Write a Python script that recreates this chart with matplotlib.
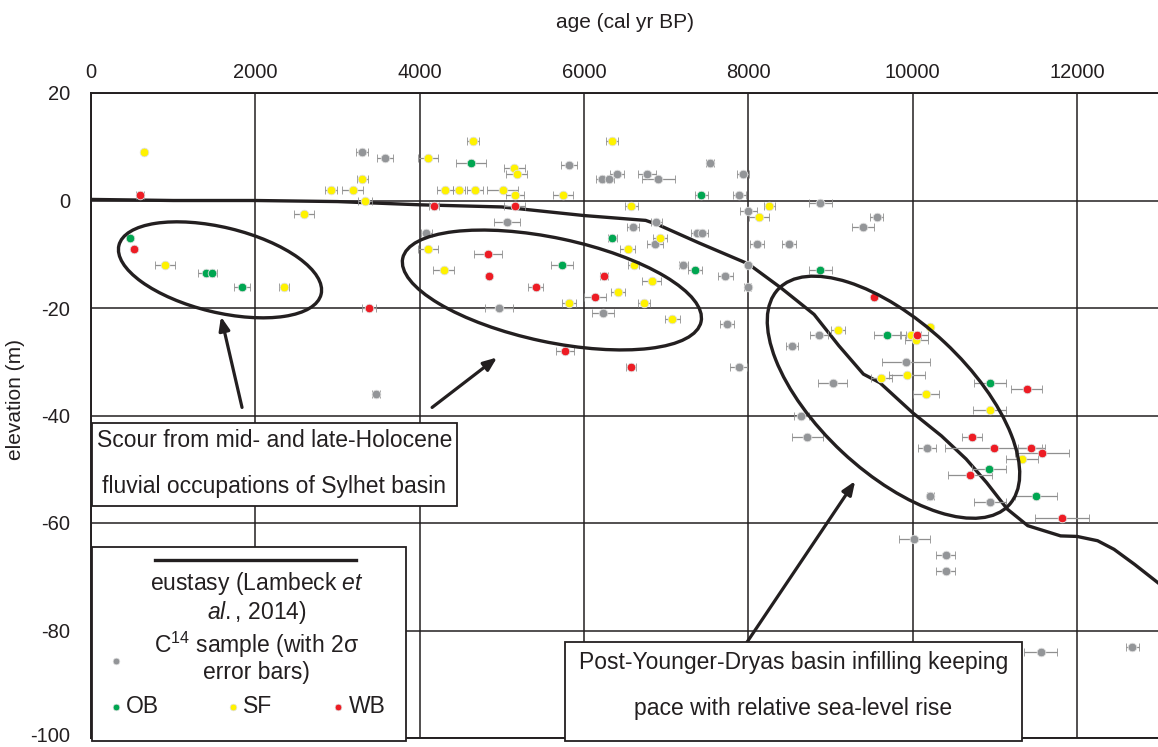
import matplotlib
matplotlib.use('Agg')
import matplotlib.pyplot as plt
from matplotlib.patches import Ellipse, Rectangle
from matplotlib.transforms import ScaledTranslation

plt.rcParams['font.family'] = ['Liberation Sans', 'DejaVu Sans']
plt.rcParams['mathtext.fontset'] = 'custom'
plt.rcParams['mathtext.rm'] = 'Liberation Sans'
plt.rcParams['mathtext.it'] = 'Liberation Sans:italic'
plt.rcParams['axes.unicode_minus'] = False

# ---------------- data ----------------
x_ticks = [0, 2000, 4000, 6000, 8000, 10000, 12000]
y_ticks = [20, 0, -20, -40, -60, -80, -100]

# eustasy curve (Lambeck et al., 2014)
eus_age = [0, 1000, 2000, 3000, 4000, 5000, 6000, 6750, 6900, 7400, 8000, 8400,
           8800, 9100, 9400, 9600, 10000, 10350, 10650, 10900, 11150, 11400,
           11800, 12000, 12250, 12450, 12700, 13000]
eus_elev = [0.2, 0, 0, -0.2, -0.8, -1.2, -2.8, -3.7, -4.5, -7.9, -11.8, -16.3,
            -21.2, -27, -32.3, -33.9, -39.5, -43.8, -48.1, -52.5, -57.4, -60.5,
            -62.4, -62.5, -63.3, -64.9, -67.7, -71.3]

# C14 samples (grey)
gray_age = [3300, 3575, 3470, 4080, 5060, 4960, 5820, 6400, 6770, 6215, 6305, 6905,
            7530, 7935, 7890, 8000, 6880, 6600, 7375, 7435, 8105, 8495, 6865, 7210,
            7720, 7990, 7990, 6230, 7740, 8875, 9560, 9395, 8855, 8535, 7880, 9915,
            9025, 8645, 8715, 10170, 10215, 10940, 10020, 10400, 10400, 11560, 12670]
gray_elev = [9, 8, -36, -6, -4, -20, 6.6, 5, 5, 4, 4, 4,
             7, 5, 1, -2, -4, -5, -6, -6, -8, -8, -8, -12,
             -14, -12, -16, -21, -23, -0.5, -3, -5, -25, -27, -31, -30,
             -34, -40, -44, -46, -55, -56, -63, -66, -69, -84, -83]
gray_err = [70, 95, 50, 70, 160, 170, 100, 85, 110, 65, 65, 200,
            50, 70, 80, 105, 70, 75, 70, 70, 80, 85, 95, 60,
            90, 0, 40, 130, 80, 140, 75, 135, 110, 75, 105, 290,
            175, 90, 190, 110, 45, 190, 185, 120, 120, 200, 80]

# OB (green)
ob_age = [470, 1400, 1470, 1840, 4625, 5730, 7425, 6345, 7350, 8875, 9690, 10945, 10930, 11500]
ob_elev = [-7, -13.5, -13.5, -16, 7, -12, 1, -7, -13, -13, -25, -34, -50, -55]
ob_err = [0, 100, 60, 95, 180, 130, 80, 55, 85, 140, 160, 195, 205, 250]

# SF (yellow)
sf_age = [650, 900, 2350, 4100, 3300, 2920, 3185, 3335, 2590, 4100, 4650, 5150, 5180,
          4310, 4480, 4675, 5010, 5160, 5740, 4290, 5815, 6340, 6575, 8255, 8130,
          6920, 6530, 6605, 6825, 6410, 6730, 7075, 9095, 9980, 10045, 10215, 9930,
          9620, 10165, 10935, 11330]
sf_elev = [9, -12, -16, 8, 4, 2, 2, 0, -2.5, -9, 11, 6, 5,
           2, 2, 2, 2, 1, 1, -13, -19, 11, -1, -1, -3,
           -7, -9, -12, -15, -17, -19, -22, -24, -25, -26, -23.5, -32.5,
           -33, -36, -39, -48]
sf_err = [0, 120, 65, 125, 65, 70, 130, 85, 120, 125, 75, 130, 130,
          100, 70, 100, 185, 115, 120, 125, 85, 70, 80, 70, 125,
          85, 95, 70, 115, 85, 75, 90, 85, 120, 135, 0, 220,
          125, 160, 200, 195]

# WB (red)
wb_age = [600, 520, 3380, 4175, 5155, 4830, 4845, 5410, 5770, 6575, 6135, 6245, 9525,
          10055, 11385, 10725, 10985, 11445, 11575, 10695, 11815]
wb_elev = [1, -9, -20, -1, -1, -10, -14, -16, -28, -31, -18, -14, -18,
           -25, -35, -44, -46, -46, -47, -51, -59]
wb_err = [50, 0, 85, 65, 130, 170, 0, 95, 110, 60, 130, 50, 0,
          135, 185, 120, 590, 160, 330, 270, 330]

C_GRAY = '#939598'
C_OB = '#00a651'
C_SF = '#fff200'
C_WB = '#ed1c24'
C_INK = '#231f20'

# ---------------- figure ----------------
fig = plt.figure(figsize=(11.58, 7.47), dpi=100)
ax = fig.add_axes([91 / 1158, 9 / 747, 1 - 91 / 1158, 645 / 747])
ax.set_xlim(0, 12985)
ax.set_ylim(-100, 20)

ax.set_xticks(x_ticks)
ax.set_yticks(y_ticks)
ax.xaxis.tick_top()
ax.xaxis.set_label_position('top')
ax.tick_params(axis='both', length=0, labelsize=14.5, colors=C_INK)
ax.tick_params(axis='x', pad=8)
ax.tick_params(axis='y', pad=15)
ax.set_xlabel('age (cal yr BP)', fontsize=15, labelpad=25, color=C_INK)
ax.set_ylabel('elevation (m)', fontsize=15, color=C_INK, va='center')
ax.yaxis.set_label_coords(-0.071, 0.525)
ax.grid(True, color=C_INK, lw=1.1, zorder=0)
ax.set_axisbelow(True)
for s in ['left', 'top', 'bottom']:
    ax.spines[s].set_linewidth(1.4)
    ax.spines[s].set_color(C_INK)
ax.spines['right'].set_visible(False)

# nudge the lowest y tick label up so it stays inside the canvas
low_tick = ax.yaxis.get_major_ticks()[-1]
low_tick.label1.set_transform(low_tick.label1.get_transform()
                              + ScaledTranslation(0, 4 / 100, fig.dpi_scale_trans))

# eustasy
ax.plot(eus_age, eus_elev, color=C_INK, lw=2.4, zorder=3, solid_capstyle='round')

# samples
for a, e, er, c in [(gray_age, gray_elev, gray_err, C_GRAY),
                    (ob_age, ob_elev, ob_err, C_OB),
                    (sf_age, sf_elev, sf_err, C_SF),
                    (wb_age, wb_elev, wb_err, C_WB)]:
    ax.errorbar(a, e, xerr=er, fmt='o', ms=6.2, mfc=c, mec='#e0e0e0', mew=0.6,
                ecolor='#8f8f8f', elinewidth=0.9, capsize=2.8, capthick=0.9, zorder=4)


# ellipses (centre in data units, shape in pixels)
def add_ellipse(cx, cy, w, h, ang):
    tr = fig.dpi_scale_trans + ScaledTranslation(cx, cy, ax.transData)
    ax.add_patch(Ellipse((0, 0), w / 100, h / 100, angle=ang, transform=tr,
                         fill=False, lw=2.4, ec=C_INK, zorder=6))


add_ellipse(1570, -12.9, 208, 85, -13.6)
add_ellipse(5609, -16.65, 305, 104, -12.0)
add_ellipse(9766, -36.6, 316, 150, -43.1)

# arrows
arrow_kw = dict(arrowstyle='-|>,head_length=0.8,head_width=0.32', lw=2.3,
                color=C_INK, shrinkA=0, shrinkB=0)
ax.annotate('', xy=(1582, -21.6), xytext=(1838, -38.5), arrowprops=arrow_kw, zorder=7)
ax.annotate('', xy=(4942, -29.2), xytext=(4151, -38.5), arrowprops=arrow_kw, zorder=7)
ax.annotate('', xy=(9300, -52.2), xytext=(7657, -89.6), arrowprops=arrow_kw, zorder=7)

# annotation boxes
ax.add_patch(Rectangle((10, -56.8), 4443, 15.4, fc='white', ec=C_INK, lw=1.3, zorder=8))
ax.text(2233, -44.6, 'Scour from mid- and late-Holocene', ha='center', va='center',
        fontsize=16.5, color=C_INK, zorder=9)
ax.text(2233, -53.3, 'fluvial occupations of Sylhet basin', ha='center', va='center',
        fontsize=16.5, color=C_INK, zorder=9)

ax.add_patch(Rectangle((5767, -100.5), 5560, 18.4, fc='white', ec=C_INK, lw=1.3, zorder=8,
                       clip_on=False))
ax.text(8547, -85.9, 'Post-Younger-Dryas basin infilling keeping', ha='center', va='center',
        fontsize=16.5, color=C_INK, zorder=9)
ax.text(8547, -94.6, 'pace with relative sea-level rise', ha='center', va='center',
        fontsize=16.5, color=C_INK, zorder=9)

# legend
ax.add_patch(Rectangle((10, -100.5), 3823, 36.0, fc='white', ec=C_INK, lw=1.3, zorder=8,
                       clip_on=False))
ax.plot([779, 3224], [-66.9, -66.9], color=C_INK, lw=2.4, zorder=9)
ax.text(2016, -71.2, r'eustasy (Lambeck $\mathit{et}$', ha='center', va='center',
        fontsize=16.5, color=C_INK, zorder=9)
ax.text(2016, -76.6, r'$\mathit{al.}$, 2014)', ha='center', va='center',
        fontsize=16.5, color=C_INK, zorder=9)
ax.text(2016, -82.7, r'C$^{14}$ sample (with 2σ', ha='center', va='center',
        fontsize=16.5, color=C_INK, zorder=9)
ax.text(2016, -87.9, 'error bars)', ha='center', va='center',
        fontsize=16.5, color=C_INK, zorder=9)
leg_ms = 4.8
ax.plot([304], [-85.7], 'o', ms=leg_ms, mfc=C_GRAY, mec='#e0e0e0', mew=0.5, zorder=9)
ax.plot([304], [-94.2], 'o', ms=leg_ms, mfc=C_OB, mec='#e0e0e0', mew=0.5, zorder=9)
ax.plot([1728], [-94.2], 'o', ms=leg_ms, mfc=C_SF, mec='#e0e0e0', mew=0.5, zorder=9)
ax.plot([3005], [-94.2], 'o', ms=leg_ms, mfc=C_WB, mec='#e0e0e0', mew=0.5, zorder=9)
ax.text(426, -94.2, 'OB', ha='left', va='center', fontsize=16.5, color=C_INK, zorder=9)
ax.text(1850, -94.2, 'SF', ha='left', va='center', fontsize=16.5, color=C_INK, zorder=9)
ax.text(3139, -94.2, 'WB', ha='left', va='center', fontsize=16.5, color=C_INK, zorder=9)

fig.savefig('out.png', dpi=100)
